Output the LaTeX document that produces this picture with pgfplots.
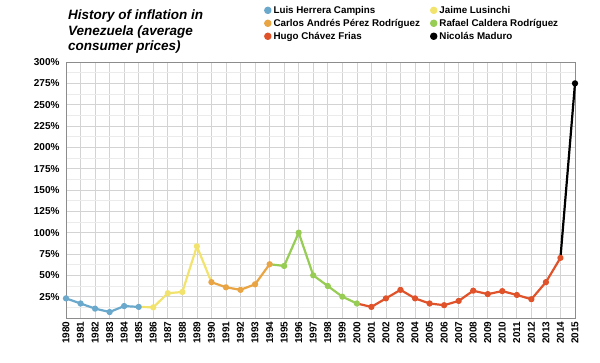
\documentclass[border=0pt]{standalone}
\usepackage{fontspec}
\setmainfont{Liberation Sans}
\usepackage{pgfplots}
\pgfplotsset{compat=1.18}
\definecolor{cblue}{HTML}{6AA8CC}
\definecolor{cyellow}{HTML}{F2E36E}
\definecolor{corange}{HTML}{E9A444}
\definecolor{cgreen}{HTML}{97CC55}
\definecolor{cred}{HTML}{E0532A}
\definecolor{gridmaj}{HTML}{D3D3D3}
\definecolor{gridmin}{HTML}{EBEBEB}
\begin{document}
\begin{tikzpicture}
\path[use as bounding box] (-66pt,-44pt) rectangle (534pt,318pt);
\begin{axis}[
  at={(0pt,0pt)}, anchor=south west,
  scale only axis, width=509pt, height=256pt,
  xmin=1980, xmax=2015, ymin=0, ymax=300,
  xtick={1980,...,2015},
  ytick={25,50,...,300},
  minor ytick={12.5,37.5,...,287.5},
  grid=both,
  major grid style={gridmaj, line width=0.6pt},
  minor grid style={gridmin, line width=0.5pt},
  axis line style={draw=black!45, line width=0.8pt},
  tick style={draw=none},
  /pgf/number format/assume math mode=true,
  /pgf/number format/1000 sep={},
  ticklabel style={font=\bfseries\fontsize{10}{11}\selectfont},
  yticklabel={\pgfmathprintnumber{\tick}\%},
  yticklabel style={xshift=-3pt},
  xticklabel style={rotate=90, anchor=east},
  clip=false,
  every axis plot/.append style={line width=2.2pt, mark=*, mark size=2pt, line join=round},
  legend columns=2,
  legend cell align=left,
  legend style={draw=none, fill=none, at={(axis description cs:0.383,1.235)}, anchor=north west,
    font=\bfseries\fontsize{9.8}{11}\selectfont, row sep=0.3pt,
    /tikz/every even column/.append style={column sep=8pt}},
  legend image code/.code={\fill[#1] (0.12cm,0cm) circle (2.6pt);},
]
\addplot[cblue, mark options={fill=cblue, draw=cblue}] coordinates {
(1980,23) (1981,17) (1982,11) (1983,7) (1984,14) (1985,13)};
\addlegendentry{Luis Herrera Campins}
\addplot[cyellow, mark indices={2,3,4,5}, mark options={fill=cyellow, draw=cyellow}] coordinates {
(1985,13) (1986,12.5) (1987,29) (1988,30.5) (1989,84) (1990,42)};
\addlegendentry{Jaime Lusinchi}
\addplot[corange, mark options={fill=corange, draw=corange}] coordinates {
(1990,42) (1991,36) (1992,33) (1993,39.5) (1994,63)};
\addlegendentry{Carlos Andrés Pérez Rodríguez}
\addplot[cgreen, mark indices={2,3,4,5,6,7}, mark options={fill=cgreen, draw=cgreen}] coordinates {
(1994,63) (1995,61) (1996,100) (1997,50) (1998,37.5) (1999,25) (2000,17)};
\addlegendentry{Rafael Caldera Rodríguez}
\addplot[cred, mark indices={2,3,4,5,6,7,8,9,10,11,12,13,14,15}, mark options={fill=cred, draw=cred}] coordinates {
(2000,17) (2001,13) (2002,23) (2003,33) (2004,23) (2005,17) (2006,15) (2007,20)
(2008,32) (2009,28) (2010,31.5) (2011,27) (2012,22) (2013,42) (2014,70.5)};
\addlegendentry{Hugo Chávez Frias}
\addplot[black, mark indices={2}, mark options={fill=black, draw=black}] coordinates {
(2014,70.5) (2015,275)};
\addlegendentry{Nicolás Maduro}
\end{axis}
\begin{scope}[every node/.style={anchor=base west, inner sep=0pt, font=\bfseries\itshape\fontsize{13.5}{16}\selectfont}]
\node at (2pt,298.5pt) {History of inflation in};
\node at (2pt,282.5pt) {Venezuela (average};
\node at (2pt,267pt) {consumer prices)};
\end{scope}
\end{tikzpicture}
\end{document}
